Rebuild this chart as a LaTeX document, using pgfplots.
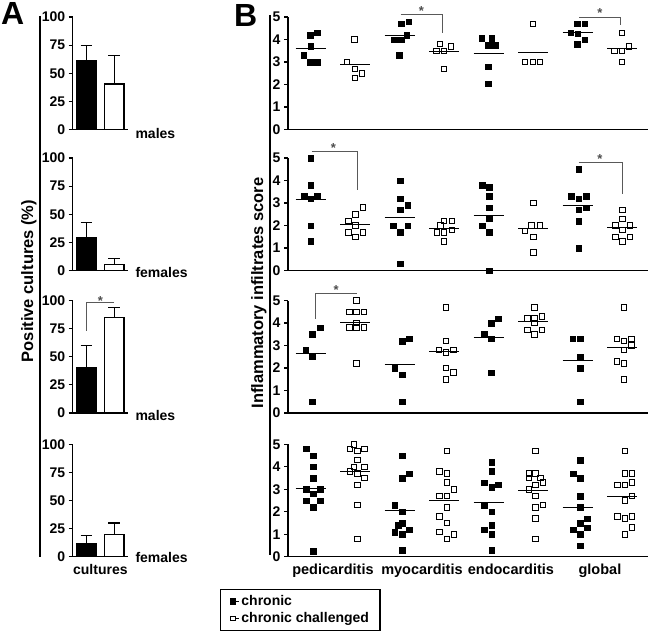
\documentclass[border=0pt]{standalone}
\usepackage{pgfplots}
\pgfplotsset{compat=1.18}
\usepackage{fontspec}
\setmainfont{Liberation Sans}
\begin{document}
\begin{tikzpicture}[x=1pt,y=1pt]
\path[use as bounding box] (0,0) rectangle (650,-634);
\tikzset{sigstar/.style={font=\bfseries\fontsize{13}{14}\selectfont, anchor=base, inner sep=0pt, black!70}}
\pgfplotsset{
  base/.style={
    scale only axis, clip=false, anchor=south west,
    axis x line=bottom, axis y line=left,
    axis line style={-, line width=1.2pt},
    tick align=outside, major tick length=4pt,
    ytick style={line width=1.2pt, black},
    xtick style={draw=none},
    xtick=\empty,
    tick label style={font=\bfseries\fontsize{14}{16}\selectfont},
    /pgf/number format/assume math mode=true,
    height=112.5pt, unbounded coords=jump,
  },
  pa/.style={base, width=55.3pt, xmin=0.5, xmax=2.5, ymin=0, ymax=100, ytick={0,25,50,75,100}},
  pb/.style={base, width=360pt, xmin=0.49, xmax=8.58, ymin=0, ymax=5, ytick={0,1,2,3,4,5}},
  ch/.style={only marks, mark=square*, mark size=2.8pt, mark options={fill=black, draw=black, line width=0.4pt},
    legend image code/.code={\path (0pt,0pt) -- (8.5pt,0pt); \fill[black] (0pt,-2.6pt) rectangle (5.2pt,2.6pt);}},
  cc/.style={only marks, mark=square, mark size=2.7pt, mark options={fill=white, draw=black, line width=0.9pt},
    legend image code/.code={\path (0pt,0pt) -- (8.5pt,0pt); \draw[black,line width=0.9pt,fill=white] (0.4pt,-2.2pt) rectangle (4.8pt,2.2pt);}},
  mn/.style={black, line width=1pt, forget plot},
  br/.style={black!65, line width=1pt, forget plot},
  barcommon/.style={ybar, bar width=19.5pt, bar shift=0pt, draw=black, line width=1.2pt,
    error bars/y dir=plus, error bars/y explicit, error bars/error bar style={line width=1.2pt, black},
    error bars/error mark options={rotate=90, mark size=5.8pt, line width=1.2pt, black}},
  barb/.style={barcommon, fill=black},
  barw/.style={barcommon, fill=white},
}
% panel letters
\node[anchor=north west, inner sep=0pt, font=\bfseries\fontsize{32}{34}\selectfont] at (1,-2) {A};
\node[anchor=north west, inner sep=0pt, font=\bfseries\fontsize{32}{34}\selectfont] at (234,-4) {B};
% vertical label bars
\draw[line width=1.2pt] (40,-16) -- (40,-557);
\draw[line width=1.2pt] (270,-15) -- (270,-555);
\node[rotate=90, anchor=base, font=\bfseries\fontsize{16.5}{18}\selectfont] at (33,-281) {Positive cultures (\%)};
\node[rotate=90, anchor=base, font=\bfseries\fontsize{16.5}{18}\selectfont] at (263,-293) {Inflammatory infiltrates score};

% ---------- Panel A ----------
\begin{axis}[pa, at={(72.7pt,-129.5pt)}]
\addplot[barb] coordinates {(1,61.5) +- (0,13.5)};
\addplot[barw] coordinates {(2,40.5) +- (0,25)};
\end{axis}
\node[anchor=west, font=\bfseries\fontsize{14}{16}\selectfont] at (132,-133) {males};

\begin{axis}[pa, at={(72.7pt,-270.5pt)}]
\addplot[barb] coordinates {(1,29) +- (0,14)};
\addplot[barw] coordinates {(2,5) +- (0,6)};
\end{axis}
\node[anchor=west, font=\bfseries\fontsize{14}{16}\selectfont] at (132,-272) {females};

\begin{axis}[pa, at={(72.7pt,-413pt)}]
\addplot[barb] coordinates {(1,40) +- (0,20)};
\addplot[barw] coordinates {(2,85) +- (0,9)};
\addplot[br] coordinates {(1,73) (1,98) (2,98)};
\node[sigstar] at (axis cs:1.5,96) {*};
\end{axis}
\node[anchor=west, font=\bfseries\fontsize{14}{16}\selectfont] at (132,-415) {males};

\begin{axis}[pa, at={(72.7pt,-556.8pt)}, xtick={1.5}, xticklabels={cultures}]
\addplot[barb] coordinates {(1,12) +- (0,7)};
\addplot[barw] coordinates {(2,20) +- (0,10)};
\end{axis}
\node[anchor=west, font=\bfseries\fontsize{14}{16}\selectfont] at (132,-557) {females};

% ---------- Panel B ----------
\begin{axis}[pb, at={(288pt,-129.5pt)}]
\addplot[ch] coordinates {(0.99,4.2) (1.15,4.3) (1.0,3.7) (0.84,3.3) (0.99,3.0) (1.15,3.0)
 (3.20,4.8) (3.04,4.7) (3.03,4.0) (2.87,4.0) (3.16,4.2) (2.99,3.3)
 (4.84,4.05) (5.07,4.05) (4.99,3.75) (5.14,3.75) (4.99,2.8) (4.99,2.03)
 (6.99,4.7) (7.16,4.7) (6.84,4.3) (7.0,4.25) (7.16,4.0) (6.99,3.8)};
\addplot[cc] coordinates {(1.98,4.0) (1.82,3.0) (1.99,2.7) (2.15,2.5) (1.99,2.3)
 (3.91,3.8) (4.15,3.7) (3.83,3.5) (3.99,3.5) (3.99,2.7)
 (5.99,4.7) (5.82,3.0) (5.99,3.0) (6.15,3.0)
 (7.99,4.3) (8.15,3.7) (7.83,3.5) (7.99,3.5) (7.99,3.0)};
\addplot[mn] coordinates {(0.66,3.6) (1.34,3.6) (1.5,nan) (1.66,2.9) (2.34,2.9) (2.5,nan)
 (2.66,4.19) (3.34,4.19) (3.5,nan) (3.66,3.45) (4.34,3.45) (4.5,nan)
 (4.66,3.38) (5.34,3.38) (5.5,nan) (5.66,3.44) (6.34,3.44) (6.5,nan)
 (6.66,4.29) (7.34,4.29) (7.5,nan) (7.66,3.6) (8.34,3.6)};
\addplot[br] coordinates {(3.02,5.1) (3.96,5.1) (3.96,4.28)};
\addplot[br] coordinates {(7.03,5.0) (7.97,5.0) (7.97,4.65)};
\node[sigstar] at (axis cs:3.49,5.08) {*};
\node[sigstar] at (axis cs:7.5,4.98) {*};
\end{axis}

\begin{axis}[pb, at={(288pt,-270.5pt)}]
\addplot[ch] coordinates {(1.0,5.0) (1.0,3.8) (0.85,3.3) (1.0,3.2) (1.15,3.3) (1.0,2.0) (1.0,1.3)
 (3.01,4.0) (3.01,3.2) (3.18,2.9) (3.01,2.7) (2.85,2.0) (3.18,2.0) (3.01,1.7) (3.01,0.3)
 (4.85,3.8) (5.01,3.7) (5.01,3.3) (5.01,2.8) (5.01,2.3) (4.85,2.0) (5.01,1.7) (5.01,0.0)
 (7.02,4.5) (6.86,3.3) (7.02,3.2) (7.19,3.3) (7.02,2.7) (7.19,2.8) (7.02,2.2) (7.02,1.0)};
\addplot[cc] coordinates {(2.17,2.8) (2.01,2.5) (1.85,2.2) (2.01,2.0) (1.85,1.7) (2.01,1.5) (2.17,1.7)
 (4.0,2.2) (4.17,2.2) (3.92,2.0) (3.84,1.7) (4.0,1.7) (4.17,1.8) (4.0,1.3)
 (6.01,3.0) (5.96,2.0) (6.15,2.0) (5.82,1.75) (6.01,1.5) (6.01,0.8)
 (8.01,2.7) (8.01,2.3) (7.85,2.0) (8.17,2.0) (8.01,1.8) (7.85,1.5) (8.17,1.5) (8.01,1.3)};
\addplot[mn] coordinates {(0.66,3.16) (1.34,3.16) (1.5,nan) (1.66,2.06) (2.34,2.06) (2.5,nan)
 (2.66,2.36) (3.34,2.36) (3.5,nan) (3.66,1.85) (4.34,1.85) (4.5,nan)
 (4.66,2.46) (5.34,2.46) (5.5,nan) (5.66,1.85) (6.34,1.85) (6.5,nan)
 (6.66,2.88) (7.34,2.88) (7.5,nan) (7.66,1.9) (8.34,1.9)};
\addplot[br] coordinates {(1.02,5.27) (2.06,5.27) (2.06,3.57)};
\addplot[br] coordinates {(7.02,4.79) (8.0,4.79) (8.0,3.39)};
\node[sigstar] at (axis cs:1.51,5.25) {*};
\node[sigstar] at (axis cs:7.5,4.77) {*};
\end{axis}

\begin{axis}[pb, at={(288pt,-413pt)}]
\addplot[ch] coordinates {(1.21,3.8) (1.04,3.5) (0.89,2.8) (1.04,2.5) (1.04,0.5)
 (3.22,3.3) (3.05,3.2) (2.89,2.0) (3.05,1.7) (3.05,0.5)
 (5.22,4.2) (5.05,4.0) (4.90,3.5) (5.05,3.3) (5.05,1.8)
 (6.89,3.3) (7.05,3.3) (7.05,2.5) (7.05,2.0) (7.05,0.5)};
\addplot[cc] coordinates {(2.03,5.0) (1.87,4.5) (2.03,4.5) (2.2,4.5) (2.03,4.0) (1.87,3.8) (2.03,3.8) (2.2,3.8) (2.03,2.2)
 (4.04,4.7) (4.04,3.2) (3.88,2.8) (4.04,2.7) (4.21,2.8) (4.04,2.0) (4.21,1.8) (4.04,1.5)
 (6.03,4.7) (5.87,4.2) (6.03,4.2) (6.2,4.3) (6.03,4.0) (5.87,3.7) (6.2,3.7) (6.03,3.5)
 (8.04,4.7) (7.88,3.3) (8.04,3.2) (8.21,3.3) (8.04,2.8) (8.21,3.0) (7.88,2.3) (8.04,2.2) (8.04,1.5)};
\addplot[mn] coordinates {(0.66,2.63) (1.34,2.63) (1.5,nan) (1.66,4.03) (2.34,4.03) (2.5,nan)
 (2.66,2.16) (3.34,2.16) (3.5,nan) (3.66,2.72) (4.34,2.72) (4.5,nan)
 (4.66,3.35) (5.34,3.35) (5.5,nan) (5.66,4.07) (6.34,4.07) (6.5,nan)
 (6.66,2.35) (7.34,2.35) (7.5,nan) (7.66,2.93) (8.34,2.93)};
\addplot[br] coordinates {(1.1,4.19) (1.1,5.29) (2.03,5.29)};
\node[sigstar] at (axis cs:1.57,5.27) {*};
\end{axis}

\begin{axis}[pb, at={(288pt,-556.8pt)}, xtick={1.5,3.5,5.5,7.5},
  xticklabels={pedicarditis,myocarditis,endocarditis,global},
  xticklabel style={font=\bfseries\fontsize{14.5}{16}\selectfont},
  legend style={at={(-0.189,-0.285)}, anchor=north west, draw=black, line width=1.3pt,
    font=\bfseries\fontsize{14}{16}\selectfont, inner xsep=9pt, inner ysep=4pt, row sep=1.5pt},
  legend cell align=left]
\addplot[ch] coordinates {(0.9,4.8) (1.06,4.5) (1.06,4.0) (1.06,3.5) (0.9,3.0) (1.22,3.0) (1.06,2.8) (0.9,2.5) (1.22,2.5) (1.06,2.2) (1.06,0.25)
 (3.05,4.5) (3.22,3.7) (3.05,3.5) (2.89,2.3) (3.05,2.0) (3.05,1.5) (2.96,1.4) (3.22,1.2) (2.89,1.1) (3.05,1.0) (3.05,0.3)
 (5.07,4.2) (5.07,3.8) (4.90,3.3) (5.22,3.2) (5.07,3.1) (4.90,2.3) (5.07,2.0) (5.07,1.4) (4.90,1.2) (5.07,1.0) (5.07,0.3)
 (7.05,4.3) (6.90,3.7) (7.05,3.5) (7.05,2.7) (7.05,2.2) (7.22,1.7) (7.05,1.5) (7.22,1.3) (6.90,1.2) (7.05,1.0) (7.05,0.5)};
\addlegendentry{chronic}
\addplot[cc] coordinates {(1.97,5.0) (1.88,4.8) (2.05,4.7) (2.21,4.8) (2.05,4.3) (1.97,4.0) (2.21,4.0) (1.88,3.8) (2.05,3.7) (2.21,3.5) (2.05,3.2) (2.05,2.3) (2.05,0.8)
 (4.06,4.7) (3.89,3.8) (4.06,3.7) (4.06,3.3) (4.22,3.0) (3.89,2.7) (4.06,2.7) (4.06,2.2) (3.89,1.8) (4.06,1.5) (3.89,1.1) (4.06,0.8) (4.22,1.0)
 (6.05,4.7) (5.90,3.7) (6.05,3.7) (5.90,3.5) (6.16,3.5) (6.05,3.2) (6.22,3.3) (5.90,3.0) (6.05,2.7) (6.05,2.2) (6.22,2.3) (6.05,1.7) (6.05,0.8)
 (8.06,4.7) (8.06,3.7) (8.22,3.7) (7.89,3.2) (8.06,3.2) (8.22,3.3) (8.22,2.7) (8.06,2.5) (7.89,1.8) (8.06,1.7) (8.22,1.8) (8.22,1.3) (8.06,1.0)};
\addlegendentry{chronic challenged}
\addplot[mn] coordinates {(0.66,3.02) (1.34,3.02) (1.5,nan) (1.66,3.8) (2.34,3.8) (2.5,nan)
 (2.66,2.07) (3.34,2.07) (3.5,nan) (3.66,2.51) (4.34,2.51) (4.5,nan)
 (4.66,2.4) (5.34,2.4) (5.5,nan) (5.66,2.96) (6.34,2.96) (6.5,nan)
 (6.66,2.19) (7.34,2.19) (7.5,nan) (7.66,2.69) (8.34,2.69)};
\end{axis}
\end{tikzpicture}
\end{document}
